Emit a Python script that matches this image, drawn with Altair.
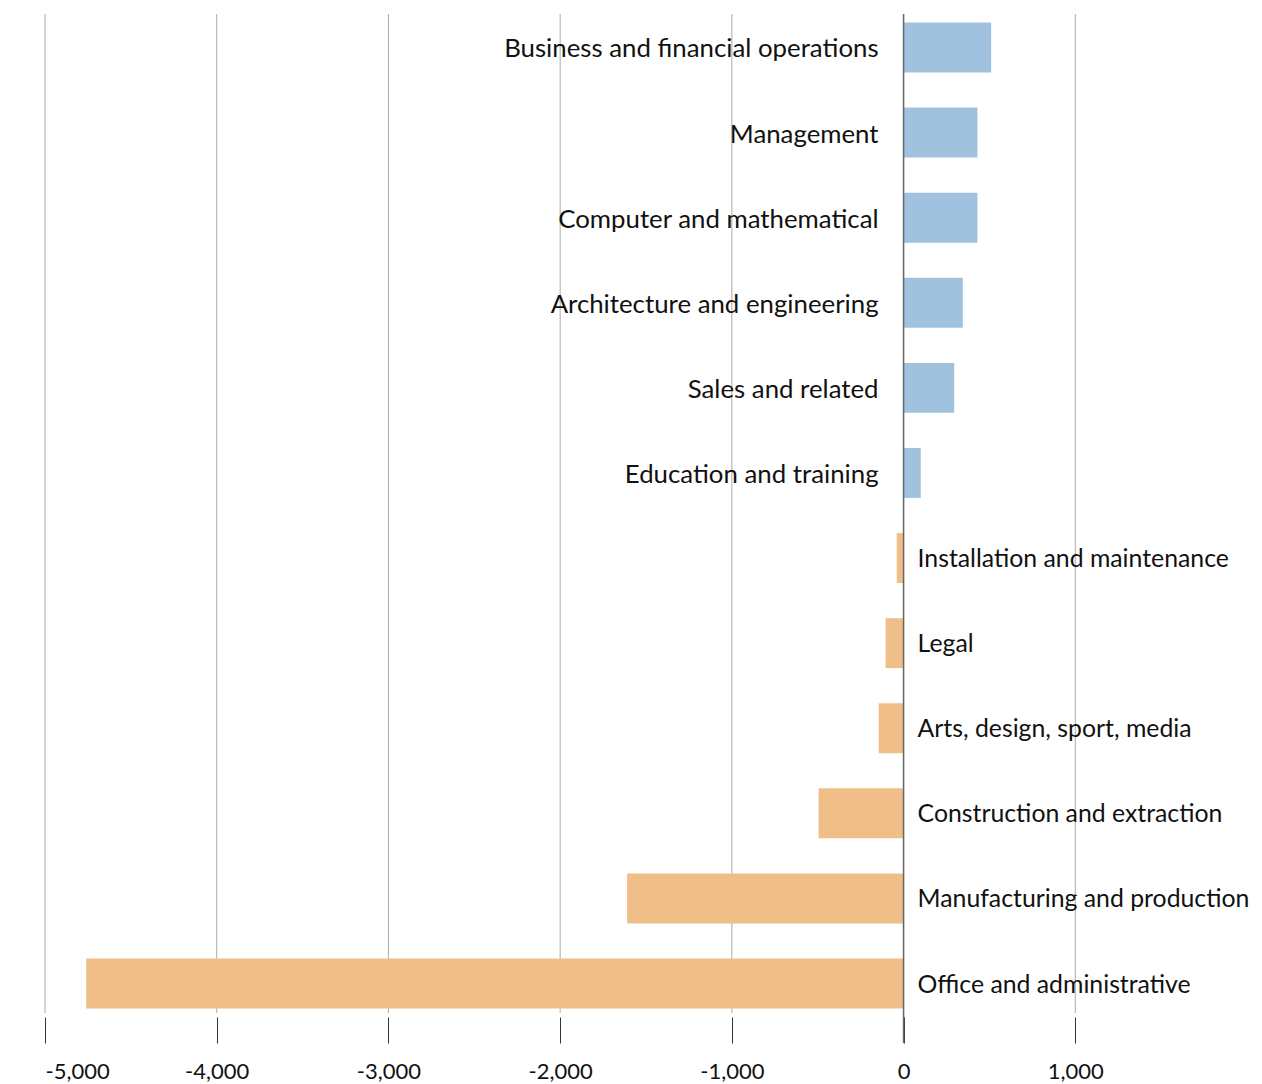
import altair as alt
import pandas as pd

categories = [
    "Business and financial operations",
    "Management",
    "Computer and mathematical",
    "Architecture and engineering",
    "Sales and related",
    "Education and training",
    "Installation and maintenance",
    "Legal",
    "Arts, design, sport, media",
    "Construction and extraction",
    "Manufacturing and production",
    "Office and administrative",
]
values = [510, 430, 430, 345, 295, 100, -40, -105, -145, -495, -1610, -4760]
tick_values = [-5000, -4000, -3000, -2000, -1000, 0, 1000]

df = pd.DataFrame({"cat": categories, "val": values})
df["sign"] = ["pos" if v >= 0 else "neg" for v in values]
grid_df = pd.DataFrame({"t": tick_values})

W = 1202
H = 1003
TICK = 26
FONT = "Lato"

x_scale = alt.Scale(domain=[-5000, 2000], nice=False, zero=False)
y_scale = alt.Scale(domain=categories, paddingInner=0.413, paddingOuter=0.1)

grid = alt.Chart(grid_df).mark_rule(color="#aaaaaa", strokeWidth=1).encode(
    x=alt.X("t:Q", scale=x_scale,
            axis=alt.Axis(values=tick_values, grid=False, domain=False,
                          labelExpr="datum.value < 0 ? '-' + format(-datum.value, ',d') : format(datum.value, ',d')",
                          tickSize=TICK, tickColor="#333333", tickWidth=1,
                          labelFont=FONT, labelFontSize=22, labelColor="#111111",
                          labelPadding=18, title=None)),
    y=alt.value(0),
    y2=alt.value(H - 4),
)

bars = alt.Chart(df).mark_bar().encode(
    x=alt.X("val:Q", scale=x_scale),
    x2=alt.datum(0),
    y=alt.Y("cat:N", scale=y_scale, axis=None, sort=categories),
    color=alt.Color("sign:N", scale=alt.Scale(domain=["pos", "neg"], range=["#a0c2de", "#f0be89"]), legend=None),
)

zero = alt.Chart(pd.DataFrame({"z": [0]})).mark_rule(color="#666666", strokeWidth=1.5).encode(
    x=alt.X("z:Q", scale=x_scale),
    y=alt.value(0),
    y2=alt.value(H + TICK),
)

pos_labels = alt.Chart(df).transform_filter("datum.val >= 0").mark_text(
    align="right", baseline="middle", dx=-25, dy=2, font=FONT, fontSize=25.8, color="#111111"
).encode(
    x=alt.datum(0),
    y=alt.Y("cat:N", scale=y_scale, sort=categories),
    text="cat:N",
)

neg_labels = alt.Chart(df).transform_filter("datum.val < 0").mark_text(
    align="left", baseline="middle", dx=14, dy=2, font=FONT, fontSize=24.8, color="#111111"
).encode(
    x=alt.datum(0),
    y=alt.Y("cat:N", scale=y_scale, sort=categories),
    text="cat:N",
)

chart = alt.layer(grid, bars, zero, pos_labels, neg_labels).properties(
    width=W, height=H,
    autosize=alt.AutoSizeParams(type="none"),
    padding={"left": 37, "top": 6, "right": 7, "bottom": 70},
).configure_view(stroke=None)

chart.save("out.html", embed_options={"renderer": "svg", "actions": False})
